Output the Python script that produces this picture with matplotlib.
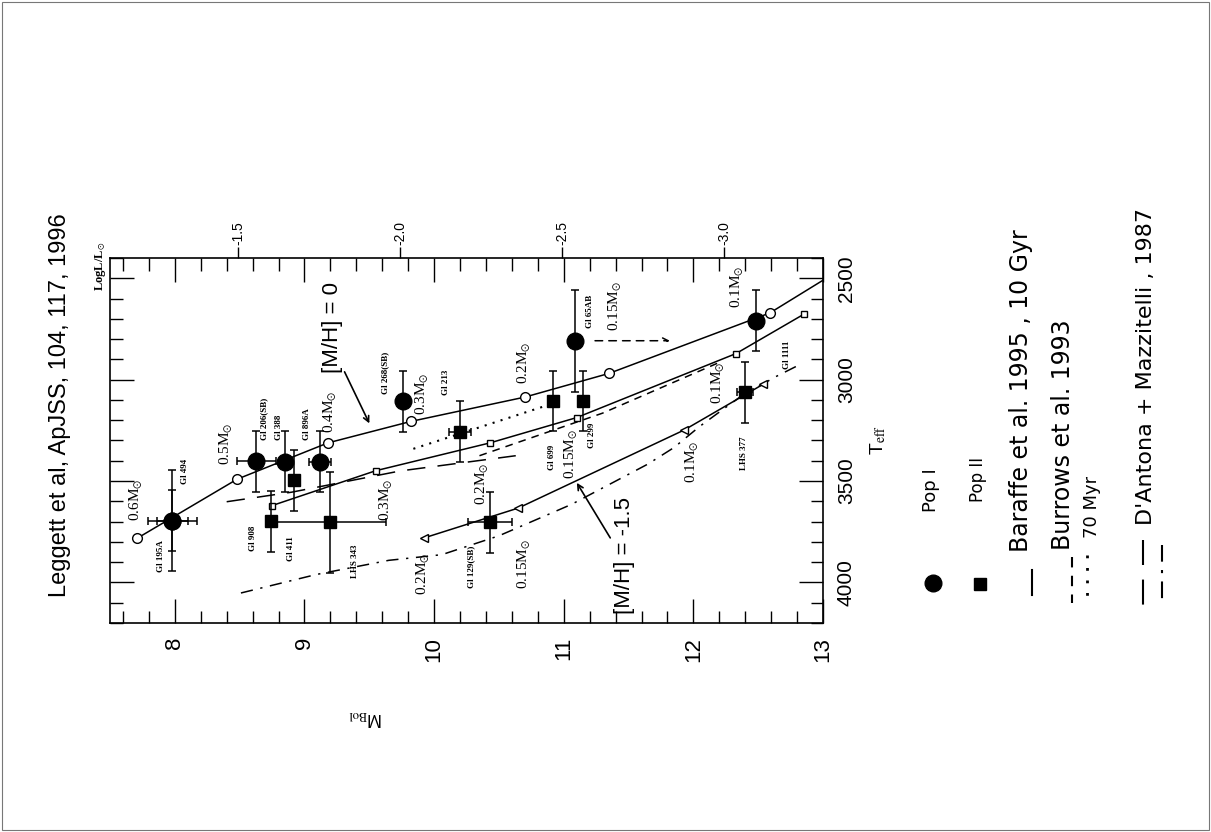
import matplotlib
matplotlib.use("Agg")
import matplotlib.pyplot as plt
from matplotlib.ticker import MultipleLocator, FixedLocator, FixedFormatter
from matplotlib.patches import Rectangle

plt.rcParams['font.family'] = ['Liberation Sans', 'DejaVu Sans']
plt.rcParams['mathtext.fontset'] = 'stix'

# Baraffe et al. 1995, [M/H]=0 (open circles)
b0_mbol = [7.71, 8.48, 9.18, 9.82, 10.70, 11.35, 12.59, 13.05]
b0_teff = [3782, 3491, 3312, 3206, 3086, 2969, 2671, 2490]
b0_mass = ["0.6", "0.5", "0.4", "0.3", "0.2", "0.15", "0.1"]

# Baraffe et al. 1995, second model (small open squares)
b5_mbol = [8.75, 9.55, 10.43, 11.10, 12.33, 12.85]
b5_teff = [3621, 3449, 3312, 3187, 2871, 2678]

# Baraffe et al. 1995, [M/H]=-1.5 (open triangles)
b15_mbol = [9.92, 10.65, 11.93, 12.54]
b15_teff = [3781, 3633, 3248, 3022]

# Burrows et al. 1993
bur_mbol = [10.35, 11.30, 12.20]
bur_teff = [3375, 3165, 2915]
bur70_mbol = [9.84, 10.88]
bur70_teff = [3341, 3125]

# D'Antona & Mazzitelli 1987
dm0_mbol = [8.40, 8.90, 9.74, 10.63]
dm0_teff = [3602, 3555, 3450, 3375]
dmp_mbol = [8.51, 9.09, 9.65, 10.06, 10.50, 11.06, 11.65, 11.85, 12.05, 12.35, 12.63, 12.82]
dmp_teff = [4052, 3961, 3891, 3863, 3770, 3615, 3416, 3335, 3230, 3090, 2987, 2926]

# Pop I stars
pop1_name = ["Gl 195A", "Gl 494", "Gl 206(SB)", "Gl 388", "Gl 896A", "Gl 268(SB)", "Gl 65AB", ""]
pop1_mbol = [7.98, 7.98, 8.63, 8.85, 9.12, 9.76, 11.09, 12.48]
pop1_teff = [3696, 3696, 3403, 3405, 3405, 3107, 2809, 2709]
pop1_xerr = [0.19, 0.12, 0.15, 0.0, 0.085, 0.0, 0.0, 0.0]
pop1_yerr = [250, 150, 150, 150, 150, 150, 250, 150]

# Pop II stars
pop2_name = ["Gl 908", "Gl 411", "LHS 343", "Gl 213", "Gl 699", "Gl 299", "Gl 129(SB)", "LHS 377"]
pop2_mbol = [8.74, 8.92, 9.20, 10.20, 10.92, 11.15, 10.43, 12.40]
pop2_teff = [3699, 3497, 3703, 3256, 3105, 3105, 3703, 3063]
pop2_xerr = [0.0, 0.0, 0.43, 0.085, 0.0, 0.0, 0.17, 0.06]
pop2_yerr = [150, 150, 250, 150, 150, 150, 150, 150]

mbol_ticks = [8, 9, 10, 11, 12, 13]
teff_ticks = [2500, 3000, 3500, 4000]
logl_ticks = [-1.5, -2.0, -2.5, -3.0]

W, H = 1211, 832
fig = plt.figure(figsize=(W / 100, H / 100), dpi=100)
fig.patches.append(Rectangle((0.002, 0.002), 0.996, 0.995, transform=fig.transFigure,
                             fill=False, ec='#777777', lw=0.8))

ax = fig.add_axes([110 / W, 1 - 623 / H, 713 / W, 365 / H])
ax.set_xlim(7.5, 13)
ax.set_ylim(4200, 2400)

lw = 1.1
ax.plot(b0_mbol, b0_teff, 'k-', lw=lw, marker='o', mfc='white', mec='k', ms=7,
        markevery=list(range(len(b0_mass))), zorder=3)
ax.plot(b5_mbol, b5_teff, 'k-', lw=lw, marker='s', mfc='white', mec='k', ms=5, zorder=3)
ax.plot(b15_mbol, b15_teff, 'k-', lw=lw, marker='<', mfc='white', mec='k', ms=5.5, zorder=3)
ax.plot(bur_mbol, bur_teff, color='k', lw=lw, ls=(0, (5, 4)))
ax.plot(bur70_mbol, bur70_teff, color='k', lw=1.5, ls=(0, (1, 3)))
ax.plot(dm0_mbol, dm0_teff, color='k', lw=lw, ls=(0, (12, 8)))
ax.plot(dmp_mbol, dmp_teff, color='k', lw=lw, ls=(0, (8, 5, 1.5, 5)))

ax.errorbar(pop1_mbol, pop1_teff, xerr=pop1_xerr, yerr=pop1_yerr, fmt='o', color='k',
            ms=12, capsize=3, elinewidth=1.1, capthick=1.1, zorder=5)
ax.errorbar(pop2_mbol, pop2_teff, xerr=pop2_xerr, yerr=pop2_yerr, fmt='s', color='k',
            ms=8.5, capsize=3, elinewidth=1.1, capthick=1.1, zorder=5)

# mass labels
msun = r"M$_{\odot}$"
serif = ['Liberation Serif', 'DejaVu Serif']
mass_pos = [
    ("0.6", 7.70, 3592), ("0.5", 8.40, 3316), ("0.4", 9.20, 3160), ("0.3", 9.91, 3071),
    ("0.2", 10.70, 2915), ("0.15", 11.40, 2639), ("0.1", 12.34, 2544),
    ("0.3", 9.63, 3590), ("0.2", 10.37, 3511), ("0.15", 11.06, 3364), ("0.1", 12.19, 3015),
    ("0.2", 9.92, 3958), ("0.15", 10.70, 3910), ("0.1", 11.99, 3406),
]
for m, x, y in mass_pos:
    ax.text(x, y, m + msun, rotation=90, ha='center', va='center', fontsize=11, family=serif)

# star names
name_pos = [(7.89, 3870), (8.08, 3454), (8.69, 3192), (8.80, 3233), (9.02, 3221),
            (9.62, 2968), (11.20, 2661), None]
for n, p in zip(pop1_name, name_pos):
    if p:
        ax.text(p[0], p[1], n, rotation=90, ha='center', va='center', fontsize=6.5,
                fontweight='bold', family=serif)
name_pos2 = [(8.60, 3782), (8.90, 3831), (9.39, 3897), (10.09, 3015), (10.91, 3381),
             (11.22, 3272), (10.29, 3924), (12.39, 3363)]
for n, p in zip(pop2_name, name_pos2):
    ax.text(p[0], p[1], n, rotation=90, ha='center', va='center', fontsize=6.5,
            fontweight='bold', family=serif)
ax.text(12.72, 2875, "Gl 1111", rotation=90, ha='center', va='center', fontsize=6.5,
        fontweight='bold', family=serif)

# handwritten notes and arrows
ax.text(9.22, 2741, "[M/H] = 0", rotation=90, ha='center', va='center', fontsize=16)
ax.annotate('', xy=(9.51, 3228), xytext=(9.30, 2949),
            arrowprops=dict(arrowstyle='->', lw=1.2, color='k'))
ax.text(11.47, 3867, "[M/H] = -1.5", rotation=90, ha='center', va='center', fontsize=16)
ax.annotate('', xy=(11.09, 3497), xytext=(11.37, 3792),
            arrowprops=dict(arrowstyle='->', lw=1.2, color='k'))
ax.annotate('', xy=(11.84, 2808), xytext=(11.22, 2808),
            arrowprops=dict(arrowstyle='->', lw=1.1, color='k', ls=(0, (5, 4))))

# axes styling
for s in ax.spines.values():
    s.set_linewidth(1.2)
ax.xaxis.set_major_locator(FixedLocator(mbol_ticks))
ax.xaxis.set_minor_locator(MultipleLocator(0.2))
ax.yaxis.set_major_locator(FixedLocator(teff_ticks))
ax.yaxis.set_minor_locator(MultipleLocator(100))
ax.tick_params(which='both', direction='in', top=True, right=True, bottom=True, left=True,
               labelleft=False, labelright=True, width=1.0)
ax.tick_params(which='major', length=17)
ax.tick_params(which='minor', length=9)
ax.tick_params(axis='x', labelrotation=90, labelsize=16, pad=10)
ax.tick_params(axis='y', labelrotation=90, labelsize=15, pad=10)
for t in ax.get_yticklabels():
    t.set_va('center')

ax.set_xlabel(r"M$_{\rm Bol}$", rotation=180, fontsize=13)
ax.xaxis.set_label_coords((365 - 110) / 713, (623 - 708) / 365)
ax.yaxis.set_label_position('right')
ax.set_ylabel(r"T$_{\rm eff}$", rotation=90, fontsize=14)
ax.yaxis.set_label_coords((868 - 110) / 713, (623 - 440) / 365)

sec = ax.secondary_xaxis('top', functions=(lambda m: (4.74 - m) / 2.5, lambda l: 4.74 - 2.5 * l))
sec.xaxis.set_major_locator(FixedLocator(logl_ticks))
sec.xaxis.set_major_formatter(FixedFormatter(["-1.5", "-2.0", "-2.5", "-3.0"]))
sec.xaxis.set_minor_locator(FixedLocator([]))
sec.tick_params(direction='out', length=8, width=1.0, labelrotation=90, labelsize=10, pad=1)
sec.spines['top'].set_visible(False)

# overlay for page notes and hand-drawn legend
ov = fig.add_axes([0, 0, 1, 1], facecolor='none')
ov.set_xlim(0, W)
ov.set_ylim(H, 0)
ov.axis('off')

ov.text(101, 266, r"LogL/L$_{\odot}$", rotation=90, ha='center', va='center', fontsize=9,
        fontweight='bold', family=serif)
ov.text(60, 405, "Leggett et al, ApJSS, 104, 117, 1996", rotation=90, ha='center',
        va='center', fontsize=17)

ov.plot([933], [583], 'ko', ms=12)
ov.plot([980], [584], 'ks', ms=9)
ov.plot([1032, 1032], [570, 595], 'k-', lw=1.5)
ov.plot([1072, 1072], [557, 603], 'k-', lw=1.5, ls=(0, (5, 4)))
ov.plot([1087, 1087], [555, 600], 'k-', lw=2, ls=(0, (1, 3.5)))
ov.plot([1143, 1143], [540, 607], 'k-', lw=1.5, ls=(0, (12, 7)))
ov.plot([1162, 1162], [545, 605], 'k-', lw=1.5, ls=(0, (8, 4, 1.5, 4)))

hand = ['DejaVu Sans']
ov.text(931, 512, "Pop I", rotation=90, ha='center', va='bottom', fontsize=13, family=hand)
ov.text(978, 502, "Pop II", rotation=90, ha='center', va='bottom', fontsize=12, family=hand)
ov.text(1021, 552, "Baraffe et al. 1995 , 10 Gyr", rotation=90, ha='center', va='bottom',
        fontsize=17, family=hand)
ov.text(1063, 550, "Burrows et al. 1993", rotation=90, ha='center', va='bottom', fontsize=17,
        family=hand)
ov.text(1092, 538, "70 Myr", rotation=90, ha='center', va='bottom', fontsize=13, family=hand)
ov.text(1146, 525, "D'Antona + Mazzitelli , 1987", rotation=90, ha='center', va='bottom',
        fontsize=16, family=hand)

fig.savefig("out.png", dpi=100)
